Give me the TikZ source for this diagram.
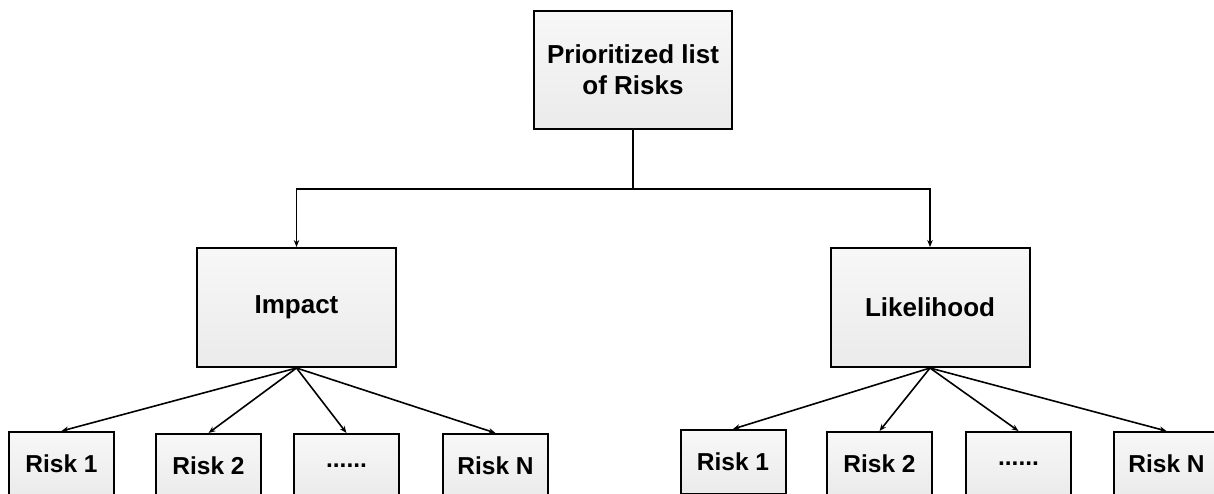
\documentclass[tikz,border=0pt]{standalone}
\usepackage{fontspec}
\setmainfont{Liberation Sans}
\usetikzlibrary{arrows.meta}
\begin{document}
\begin{tikzpicture}[x=1pt,y=-1pt,
  box/.style={draw=black, line width=2pt, rectangle, inner sep=0pt,
    top color=white!97!black, bottom color=black!8, align=center,
    font=\fontsize{26}{31}\selectfont\bfseries},
  mainbox/.style={box, minimum width=198pt, minimum height=118pt},
  midbox/.style={box, minimum width=199pt, minimum height=119pt},
  leafbox/.style={box, minimum width=105pt, minimum height=64pt,
    font=\fontsize{24.5}{28}\selectfont\bfseries},
  link/.style={line width=1.6pt, -{Stealth[length=7pt,width=5.5pt]}},
  trunk/.style={line width=1.6pt}]
\useasboundingbox (0,0) rectangle (1214,493);

% root
\node[mainbox] (root) at (633,70) {Prioritized list\\of Risks};

% criteria
\node[midbox] (impact) at (296.5,307.5) {Impact};
\node[midbox] (like) at (930,307.5) {Likelihood};

% risks under Impact
\node[leafbox] (a1) at (61.5,464) {Risk 1};
\node[leafbox] (a2) at (208.5,466) {Risk 2};
\node[leafbox] (a3) at (346.5,466) {......};
\node[leafbox] (a4) at (495.5,466) {Risk N};

% risks under Likelihood
\node[leafbox] (b1) at (733,462) {Risk 1};
\node[leafbox] (b2) at (879.5,464) {Risk 2};
\node[leafbox] (b3) at (1018.5,464) {......};
\node[leafbox] (b4) at (1166.5,464) {Risk N};

% split from root into both criteria
\coordinate (split) at (633,189);
\draw[trunk] (root.south) -- (split);
\draw[link] (split) -| (impact.north);
\draw[link] (split) -| (like.north);

% fan-out to the individual risks
\foreach \n in {a1,a2,a3,a4} \draw[link] (impact.south) -- (\n.north);
\foreach \n in {b1,b2,b3,b4} \draw[link] (like.south) -- (\n.north);
\end{tikzpicture}
\end{document}
